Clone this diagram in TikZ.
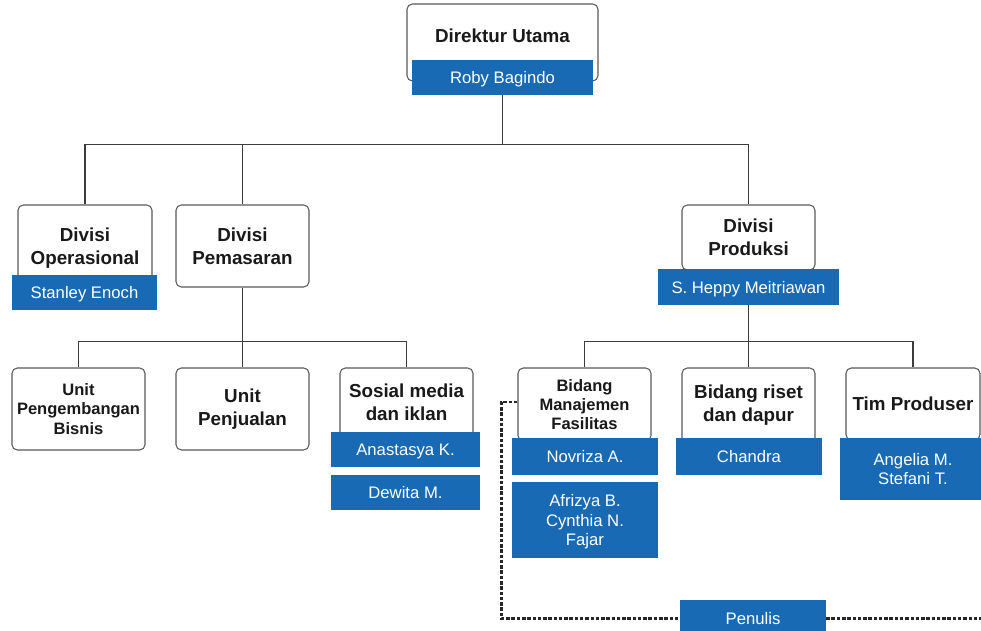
\documentclass[tikz,border=0pt]{standalone}
\usepackage{fontspec}
\setmainfont{Liberation Sans}
\definecolor{orgblue}{RGB}{24,106,180}
\definecolor{lineg}{RGB}{60,60,60}

\begin{document}
\begin{tikzpicture}[x=0.02cm, y=-0.02cm,
        unitbox/.style={draw=lineg!85, line width=0.6pt, rounded corners=3pt, fill=white,
            align=center, inner sep=0pt, text=black!90,
            font=\fontsize{10.7}{13}\selectfont\bfseries},
        smallbox/.style={unitbox, font=\fontsize{9.4}{11}\selectfont\bfseries},
        head/.style={align=center, text=black!90, font=\fontsize{10.7}{13}\selectfont\bfseries},
        namebox/.style={fill=orgblue, text=white, align=center, inner sep=0pt, text depth=0pt,
            font=\fontsize{9.5}{11.3}\selectfont},
        link/.style={draw=lineg, line width=0.6pt},
        dotline/.style={draw=black!85, line width=1.2pt, dash pattern=on 2pt off 1pt}]
        \useasboundingbox (0,0) rectangle (981,631);
        \clip (0,0) rectangle (981,631);

        % direktur
        \node[unitbox, minimum width=3.82cm, minimum height=1.54cm] (dir) at (502.5,42.5) {};
        \node[head] (dirT) at (502.5,36) {Direktur Utama};
        \node[namebox, minimum width=3.62cm, minimum height=0.70cm] (dirN) at (502.5,77.5) {Roby Bagindo};

        % divisi
        \node[unitbox, minimum width=2.68cm, minimum height=1.74cm] (divOp) at (85,248.5) {Divisi\\Operasional};
        \node[namebox, minimum width=2.90cm, minimum height=0.70cm] (divOpN) at (84.5,292.5) {Stanley Enoch};
        \node[unitbox, minimum width=2.66cm, minimum height=1.64cm] (divPm) at (242.5,246) {Divisi\\Pemasaran};
        \node[unitbox, minimum width=2.66cm, minimum height=1.30cm] (divPr) at (748.5,237.5) {Divisi\\Produksi};
        \node[namebox, minimum width=3.62cm, minimum height=0.72cm] (divPrN) at (748.5,287) {S. Heppy Meitriawan};

        % pemasaran
        \node[smallbox, minimum width=2.66cm, minimum height=1.64cm] (unitPB) at (78.5,409) {Unit\\Pengembangan\\Bisnis};
        \node[unitbox, minimum width=2.66cm, minimum height=1.64cm] (unitPj) at (242.5,409) {Unit\\Penjualan};
        \node[unitbox, minimum width=2.66cm, minimum height=1.38cm] (sosmed) at (406.5,402.5) {Sosial media\\dan iklan};
        \node[namebox, minimum width=2.98cm, minimum height=0.70cm] (anas) at (405.5,449.5) {Anastasya K.};
        \node[namebox, minimum width=2.98cm, minimum height=0.70cm] (dewita) at (405.5,492.5) {Dewita M.};

        % produksi
        \node[smallbox, minimum width=2.66cm, minimum height=1.46cm] (bmf) at (584.5,404.5) {Bidang\\Manajemen\\Fasilitas};
        \node[namebox, minimum width=2.92cm, minimum height=0.74cm] (novriza) at (585,456.5) {Novriza A.};
        \node[namebox, minimum width=2.92cm, minimum height=1.52cm] (afrizya) at (585,520) {Afrizya B.\\Cynthia N.\\Fajar};
        \node[unitbox, minimum width=2.66cm, minimum height=1.50cm] (riset) at (748.5,405.5) {Bidang riset\\dan dapur};
        \node[namebox, minimum width=2.92cm, minimum height=0.74cm] (chandra) at (749,456.5) {Chandra};
        \node[unitbox, minimum width=2.68cm, minimum height=1.44cm] (timp) at (913,404) {Tim Produser};
        \node[namebox, minimum width=2.92cm, minimum height=1.24cm] (angel) at (913,469) {Angelia M.\\Stefani T.};
        \node[namebox, minimum width=2.92cm, minimum height=0.74cm] (penulis) at (753,618.5) {Penulis};

        \draw[link] (dirN.south) -- ++(0,49) coordinate (busTop);
        \draw[link] (divOp.north) |- (busTop) -| (divPr.north);
        \draw[link] (divPm.north) -- (divPm.north |- busTop);

        \draw[link] (divPm.south) -- ++(0,54) coordinate (busPm);
        \draw[link] (unitPB.north) |- (busPm) -| (sosmed.north);
        \draw[link] (unitPj.north) -- (unitPj.north |- busPm);

        \draw[link] (divPrN.south) -- ++(0,36) coordinate (busPr);
        \draw[link] (bmf.north) |- (busPr) -| (timp.north);
        \draw[link] (busPr) -- (riset.north);

        % penulis (dotted)
        \draw[dotline] ([yshift=0.05cm]bmf.west) -- ++(-16,0) |- (penulis.west);
        \draw[dotline] ([yshift=0.04cm]timp.east) -- ++(14,0) |- (penulis.east);
\end{tikzpicture}
\end{document}
